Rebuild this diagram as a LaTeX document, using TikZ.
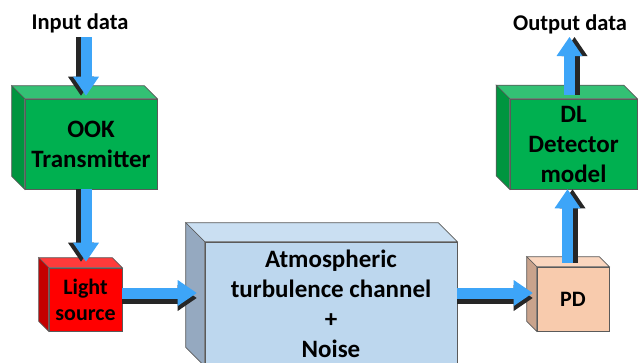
\documentclass[tikz,border=0pt]{standalone}
\usepackage{fontspec}
\setmainfont{Carlito}
\usetikzlibrary{arrows.meta,calc}

\definecolor{greenfront}{HTML}{00B050}
\definecolor{greentop}{HTML}{33C174}
\definecolor{greenside}{HTML}{00953F}
\definecolor{redfront}{HTML}{FF0000}
\definecolor{redtop}{HTML}{FF3B3B}
\definecolor{redside}{HTML}{C40000}
\definecolor{bluefront}{HTML}{BDD7EE}
\definecolor{bluetop}{HTML}{CADFF2}
\definecolor{blueside}{HTML}{95A9C0}
\definecolor{peachfront}{HTML}{F8CBAD}
\definecolor{peachtop}{HTML}{FAD6BF}
\definecolor{peachside}{HTML}{C9A38C}
\definecolor{edgegray}{HTML}{5A5A5A}
\definecolor{arrowblue}{HTML}{3DA5F8}
\definecolor{arrowshade}{HTML}{262626}

% top and left faces of a box whose front face is the node #1
\newcommand\cubefaces[4]{%
  \filldraw[fill=#3, draw=edgegray, line width=0.6pt]
    (#1.north west) -- (#1.north east) -- ++(-#2,-#2)
    -- ($(#1.north west)+(-#2,-#2)$) -- cycle;
  \filldraw[fill=#4, draw=edgegray, line width=0.6pt]
    (#1.north west) -- ++(-#2,-#2) -- ($(#1.south west)+(-#2,-#2)$)
    -- (#1.south west) -- cycle;
}

\begin{document}
\begin{tikzpicture}[x=1pt, y=-1pt,
  front/.style={draw=edgegray, line width=0.6pt, inner sep=0pt,
    align=center, font=\bfseries\fontsize{25}{30}\selectfont},
  smallfront/.style={front, font=\bfseries\fontsize{22}{26}\selectfont},
  title/.style={inner sep=0pt, anchor=base, font=\bfseries\fontsize{22.5}{26}\selectfont},
  fatarrow/.style={draw=arrowblue, line width=11pt,
    -{Triangle[length=19pt, width=26pt, line width=0pt]}},
  shadearrow/.style={fatarrow, draw=arrowshade}
]
\useasboundingbox (0,0) rectangle (640,362);

% labels
\node[title] (inp) at (80,29) {Input data};
\node[title] (out) at (570,30) {Output data};

% front faces
\node[front, fill=greenfront, minimum width=132pt, minimum height=90pt]
  (tx) at (91,144) {OOK\\Transmitter};
\node[smallfront, fill=redfront, minimum width=73pt, minimum height=63pt]
  (ls) at (85.5,299.5) {Light\\source};
\node[front, fill=bluefront, minimum width=252pt, minimum height=124pt]
  (atm) at (331,304) {Atmospheric\\turbulence channel\\+\\Noise};
\node[smallfront, fill=peachfront, minimum width=72pt, minimum height=64pt]
  (pd) at (573,299) {PD};
\node[front, fill=greenfront, minimum width=127pt, minimum height=90pt]
  (dl) at (573.5,144) {DL\\Detector\\model};

% top and side faces
\cubefaces{tx}{13}{greentop}{greenside}
\cubefaces{ls}{10}{redtop}{redside}
\cubefaces{atm}{19}{bluetop}{blueside}
\cubefaces{pd}{10}{peachtop}{peachside}
\cubefaces{dl}{13.5}{greentop}{greenside}

% connector end points
\coordinate (a1s) at ($(inp.base)+(6,8)$);
\coordinate (a1e) at ($(tx.north)+(-5,-3)$);
\coordinate (a2s) at ($(tx.south)+(-5,0)$);
\coordinate (a2e) at ($(tx.south |- ls.north)+(-5,-6)$);
\coordinate (a3s) at ($(ls.east)+(0,-6.5)$);
\coordinate (a3e) at ($(ls.east -| atm.west)+(-8,-6.5)$);
\coordinate (a4s) at ($(atm.east |- pd.west)+(0,-6)$);
\coordinate (a4e) at ($(pd.west)+(-4,-6)$);
\coordinate (a5s) at ($(pd.north)+(-5.5,-4)$);
\coordinate (a5e) at ($(pd.north |- dl.south)+(-5.5,0)$);
\coordinate (a6s) at ($(dl.north)+(-4,-4)$);
\coordinate (a6e) at ($(out.base)+(-0.5,7)$);

% arrows: dark extrusion first, blue body on top
\draw[shadearrow, transform canvas={xshift=-5pt}] (a1s) -- (a1e);
\draw[fatarrow] (a1s) -- (a1e);
\draw[shadearrow, transform canvas={xshift=-5pt}] (a2s) -- (a2e);
\draw[fatarrow] (a2s) -- (a2e);
\draw[shadearrow, transform canvas={yshift=-5pt}] (a3s) -- (a3e);
\draw[fatarrow] (a3s) -- (a3e);
\draw[shadearrow, transform canvas={yshift=-5pt}] (a4s) -- (a4e);
\draw[fatarrow] (a4s) -- (a4e);
\draw[shadearrow, transform canvas={xshift=5pt}] (a5s) -- (a5e);
\draw[fatarrow] (a5s) -- (a5e);
\draw[shadearrow, transform canvas={xshift=5pt}] (a6s) -- (a6e);
\draw[fatarrow] (a6s) -- (a6e);
\end{tikzpicture}
\end{document}
